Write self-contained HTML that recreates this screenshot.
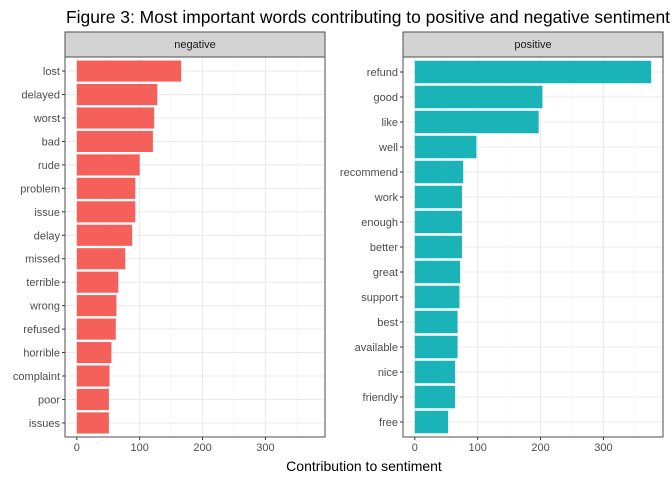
<!DOCTYPE html>
<html><head><meta charset="utf-8"><style>
body{margin:0;background:#fff;font-family:"Liberation Sans",Arial,sans-serif;}
svg text{font-family:"Liberation Sans",Arial,sans-serif;}
</style></head><body>
<svg id="chart" width="672" height="480" xmlns="http://www.w3.org/2000/svg">
<text x="66" y="23" font-size="17.5" textLength="604" lengthAdjust="spacingAndGlyphs" fill="#000">Figure 3: Most important words contributing to positive and negative sentiment</text>
<text x="364" y="471" font-size="14" text-anchor="middle" fill="#000">Contribution to sentiment</text>
</svg>
<script>
const negWords=["lost","delayed","worst","bad","rude","problem","issue","delay","missed","terrible","wrong","refused","horrible","complaint","poor","issues"];
const negValues=[166,128,123,121,100,93,93,88,77,66,63,62,55,52,51,51];
const posWords=["refund","good","like","well","recommend","work","enough","better","great","support","best","available","nice","friendly","free"];
const posValues=[376,203,197,98,77,75,75,75,72,71,68,68,64,64,53];
const xTicks=[0,100,200,300];
const svg=document.getElementById('chart');
const NS='http://www.w3.org/2000/svg';
function mk(t,a,p){const e=document.createElementNS(NS,t);for(const k in a)e.setAttribute(k,a[k]);(p||svg).appendChild(e);return e;}
const xmin=-18.8,xmax=394.8;
function panel(x0,x1,title,words,vals,color,nm){
  const y0=57,y1=437;
  const g=mk('g',{});
  
  
  const sx=v=>x0+(v-xmin)/(xmax-xmin)*(x1-x0);
  const n=words.length,span=n-1+1.2,step=(y1-y0)/span;
  const sy=i=>y0+(0.6+i)*step;
  mk('rect',{x:x0,y:y0,width:x1-x0,height:y1-y0,fill:'#fff'},g);
  for(let i=0;i<xTicks.length;i++){const m=xTicks[i]+50;if(m<xmax)mk('line',{x1:sx(m),x2:sx(m),y1:y0,y2:y1,stroke:'#f2f2f2','stroke-width':0.6},g);}
  xTicks.forEach(t=>{mk('line',{x1:sx(t),x2:sx(t),y1:y0,y2:y1,stroke:'#ebebeb','stroke-width':1.1},g);});
  words.forEach((w,i)=>{mk('line',{x1:x0,x2:x1,y1:sy(i),y2:sy(i),stroke:'#ebebeb','stroke-width':1.1},g);});
  words.forEach((w,i)=>{
    const b=mk('rect',{x:sx(0),y:sy(i)-step*0.45,width:sx(vals[i])-sx(0),height:step*0.9,fill:color},g);
    
    
    const l=mk('text',{x:x0-5,y:sy(i)+4,'font-size':11,'text-anchor':'end',fill:'#4d4d4d'},g);l.textContent=w;
    
    
    mk('line',{x1:x0-3,x2:x0,y1:sy(i),y2:sy(i),stroke:'#333'},g);
  });
  xTicks.forEach(t=>{
    mk('line',{x1:sx(t),x2:sx(t),y1:y1,y2:y1+3,stroke:'#333'},g);
    const l=mk('text',{x:sx(t),y:y1+14,'font-size':11,'text-anchor':'middle',fill:'#4d4d4d'},g);l.textContent=t;
    
    
  });
  mk('rect',{x:x0,y:y0,width:x1-x0,height:y1-y0,fill:'none',stroke:'#4d4d4d','stroke-width':1},g);
  const s=mk('rect',{x:x0,y:32,width:x1-x0,height:y0-32,fill:'#d3d3d3',stroke:'#4d4d4d','stroke-width':1},g);
  
  
  const st=mk('text',{x:(x0+x1)/2,y:48,'font-size':11,'text-anchor':'middle',fill:'#1a1a1a'},g);st.textContent=title;
  
  
}
panel(65,325,'negative',negWords,negValues,'#F6605A','negative');
panel(403,663,'positive',posWords,posValues,'#1AB4B8','positive');
</script>
</body></html>
